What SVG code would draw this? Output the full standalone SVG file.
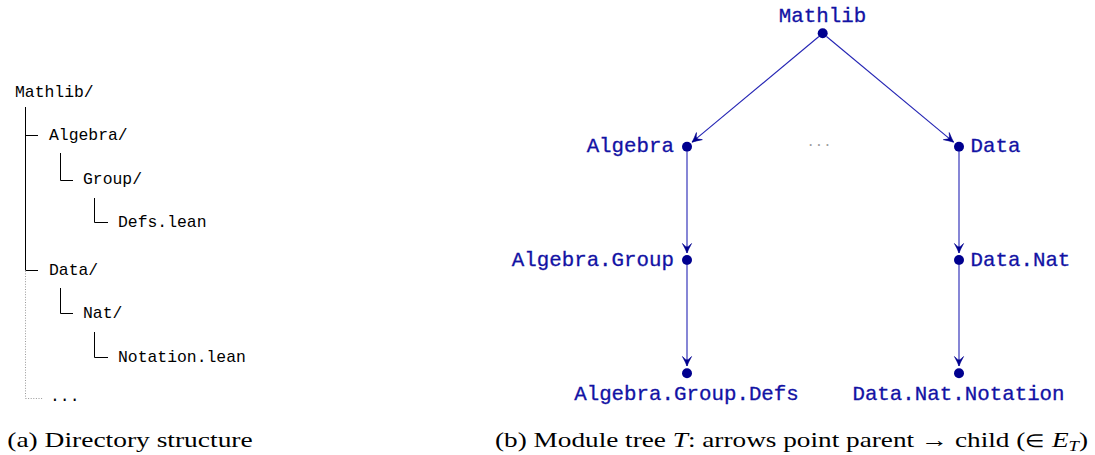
<svg xmlns="http://www.w3.org/2000/svg" width="1095" height="455" viewBox="0 0 1095 455">
<style>
.dir{font-family:"Liberation Mono",monospace;font-size:16.4px;fill:#000}
.tl{stroke:#000;stroke-width:1;fill:none}
.dot{stroke:#999;stroke-width:1;stroke-dasharray:1 1.6;fill:none}
.lbl{font-family:"Liberation Mono",monospace;font-size:20.8px;fill:#1212a4;stroke:#1212a4;stroke-width:0.3}
.nd{fill:#00008f}
.edge{stroke:#2424b4;stroke-width:1.1;fill:none}
.cap{font-family:"Liberation Serif",serif;font-size:22px;fill:#000}
</style>
<defs>
<marker id="arr" markerUnits="userSpaceOnUse" viewBox="-11 -6 12 12" refX="0" refY="0" markerWidth="12" markerHeight="12" orient="auto">
<path d="M0,0 Q-4,-1.6 -9.5,-4.6 Q-6,-1.2 -6,0 Q-6,1.2 -9.5,4.6 Q-4,1.6 0,0 Z" fill="#00008f" stroke="#00008f" stroke-width="0.6" stroke-linejoin="round"/>
</marker>
</defs>

<g id="directory">
<text class="dir" x="15" y="96.5">Mathlib/</text>
<line class="dot" x1="25.5" y1="107" x2="25.5" y2="398.5"/>
<line class="tl" x1="25.5" y1="107" x2="25.5" y2="270"/>
<path class="tl" d="M25.5,135.5 H38"/>
<text class="dir" x="49" y="139.5">Algebra/</text>
<path class="tl" d="M60.5,153 V180.5 H73"/>
<text class="dir" x="83" y="183.5">Group/</text>
<path class="tl" d="M94.5,198 V222.5 H108"/>
<text class="dir" x="118" y="227">Defs.lean</text>
<path class="tl" d="M25.5,270.5 H38"/>
<text class="dir" x="49" y="275">Data/</text>
<path class="tl" d="M60.5,288 V313.5 H73"/>
<text class="dir" x="83" y="318">Nat/</text>
<path class="tl" d="M94.5,332 V357.5 H108"/>
<text class="dir" x="118" y="361.5">Notation.lean</text>
<path class="dot" d="M25.5,398.5 H43"/>
<text class="dir" x="50" y="401">...</text>
</g>

<g id="connectors">
<line class="edge" x1="818.9" y1="36.5" x2="692.1" y2="142.2" marker-end="url(#arr)"/>
<line class="edge" x1="826.5" y1="36.5" x2="953.6" y2="142.2" marker-end="url(#arr)"/>
<line class="edge" x1="687" y1="151.5" x2="687" y2="253" marker-end="url(#arr)"/>
<line class="edge" x1="687" y1="265" x2="687" y2="366" marker-end="url(#arr)"/>
<line class="edge" x1="959" y1="151.5" x2="959" y2="253" marker-end="url(#arr)"/>
<line class="edge" x1="959" y1="265" x2="959" y2="366" marker-end="url(#arr)"/>
</g>

<g id="node-mathlib">
<circle class="nd" cx="822.7" cy="33.3" r="5"/>
<text class="lbl" x="822.5" y="21.7" text-anchor="middle">Mathlib</text>
</g>
<g id="node-algebra">
<circle class="nd" cx="687" cy="146.7" r="5"/>
<text class="lbl" x="674" y="152" text-anchor="end">Algebra</text>
</g>
<g id="node-data">
<circle class="nd" cx="959" cy="146.7" r="5"/>
<text class="lbl" x="970.5" y="152">Data</text>
</g>
<g id="node-algebra-group">
<circle class="nd" cx="687" cy="260" r="5"/>
<text class="lbl" x="674" y="265.5" text-anchor="end">Algebra.Group</text>
</g>
<g id="node-data-nat">
<circle class="nd" cx="959" cy="260" r="5"/>
<text class="lbl" x="970.5" y="265.5">Data.Nat</text>
</g>
<g id="node-algebra-group-defs">
<circle class="nd" cx="687" cy="373.3" r="5"/>
<text class="lbl" x="686.5" y="399.5" text-anchor="middle">Algebra.Group.Defs</text>
</g>
<g id="node-data-nat-notation">
<circle class="nd" cx="959" cy="373.3" r="5"/>
<text class="lbl" x="958.5" y="399.5" text-anchor="middle">Data.Nat.Notation</text>
</g>
<g id="ellipsis">
<text x="820.5" y="151" text-anchor="middle" style="font-family:'Liberation Serif',serif;font-size:16px;fill:#999;letter-spacing:3px">···</text>
</g>

<text class="cap" x="7.3" y="447.3" textLength="245.4" lengthAdjust="spacingAndGlyphs">(a) Directory structure</text>
<text class="cap" x="495" y="447.3" textLength="593" lengthAdjust="spacingAndGlyphs">(b) Module tree <tspan font-style="italic">T</tspan>: arrows point parent → child (<tspan font-size="18px">∈</tspan> <tspan font-style="italic">E</tspan><tspan font-style="italic" font-size="15px" dy="3.5">T</tspan><tspan dy="-3.5">)</tspan></text>
</svg>
